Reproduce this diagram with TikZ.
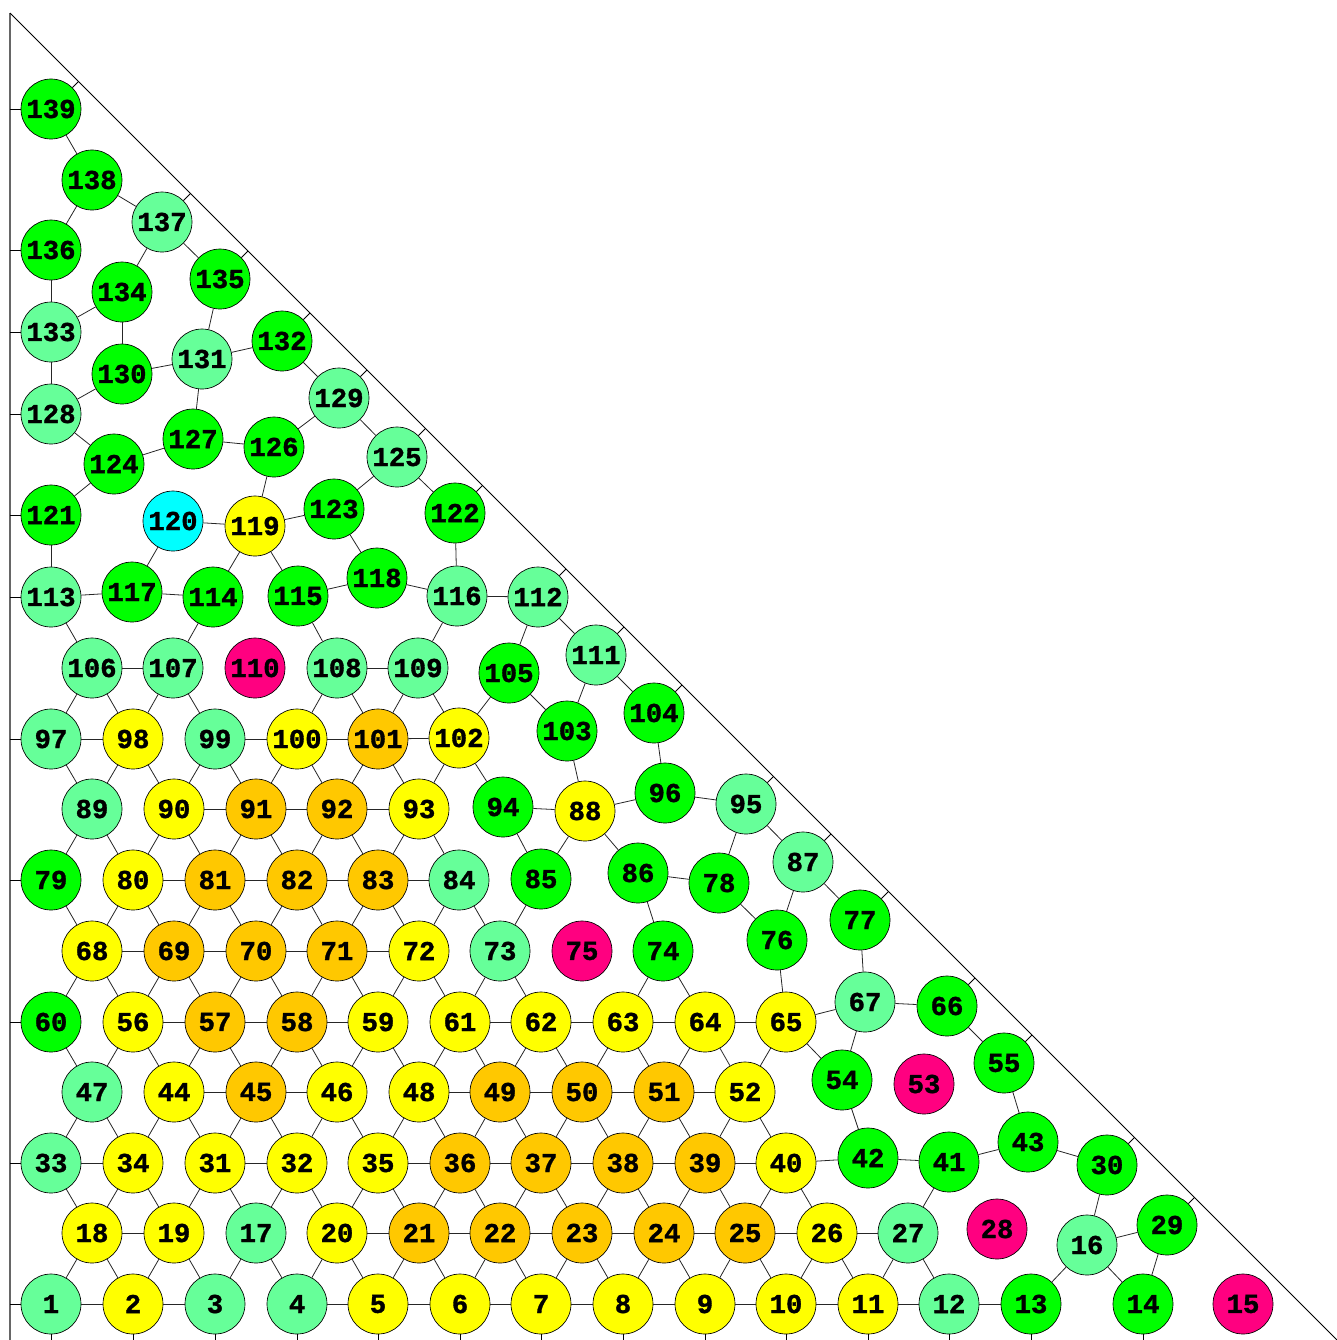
\documentclass[tikz,border=0pt]{standalone}
\usepackage{fontspec}
\usetikzlibrary{calc}
\newfontfamily\numfont{Liberation Mono}[BoldFeatures={FakeBold=1.2}]
\definecolor{cG}{HTML}{00FF00}
\definecolor{cL}{HTML}{66FF99}
\definecolor{cY}{HTML}{FFFF00}
\definecolor{cO}{HTML}{FFC800}
\definecolor{cM}{HTML}{FF0080}
\definecolor{cC}{HTML}{00FFFF}
\tikzset{
  nd/.style={circle, draw=black, line width=0.5pt, minimum size=45pt, inner sep=0pt,
    font=\numfont\bfseries\fontsize{20.5}{24}\selectfont},
  ed/.style={draw=black!85, line width=0.6pt},
  bnd/.style={draw=black, line width=0.6pt}
}
\begin{document}
\begin{tikzpicture}[x=0.75pt, y=-0.75pt]
\useasboundingbox (0,0) rectangle (1337,1340);
\coordinate (A1) at (10,13);
\coordinate (A2) at (10,1340);
\coordinate (D2) at (1337,1340);
\coordinate (B) at (0,1340);
\draw[draw=black!60, line width=0.8pt] (A1) -- (A2);
\draw[bnd] (A1) -- (D2);
\foreach \n/\x/\y/\c in {
 1/51/1304/cL, 2/133/1304/cY, 3/215/1304/cL, 4/297/1304/cL, 5/378/1304/cY, 6/460/1304/cY,
 7/541/1304/cY, 8/623/1304/cY, 9/705/1304/cY, 10/786/1304/cY, 11/868/1304/cY, 12/949/1304/cL,
 13/1031/1304/cG, 14/1143/1304/cG, 15/1243/1304/cM,
 18/92/1233/cY, 19/174/1233/cY, 17/256/1233/cL, 20/337/1233/cY, 21/419/1233/cO, 22/500/1233/cO,
 23/582/1233/cO, 24/664/1233/cO, 25/745/1233/cO, 26/827/1233/cY, 27/908/1233/cL, 28/997/1229/cM,
 16/1087/1245/cL, 29/1167/1225/cG,
 33/51/1163/cL, 34/133/1163/cY, 31/215/1163/cY, 32/297/1163/cY, 35/378/1163/cY, 36/460/1163/cO,
 37/541/1163/cO, 38/623/1163/cO, 39/705/1163/cO, 40/786/1163/cY, 42/868/1158/cG, 41/949/1162/cG,
 43/1028/1142/cG, 30/1107/1165/cG,
 47/92/1092/cL, 44/174/1092/cY, 45/256/1092/cO, 46/337/1092/cY, 48/419/1092/cY, 49/500/1092/cO,
 50/582/1092/cO, 51/664/1092/cO, 52/745/1092/cY, 54/842/1080/cG, 53/924/1084/cM, 55/1004/1063/cG,
 60/51/1022/cG, 56/133/1022/cY, 57/215/1022/cO, 58/297/1022/cO, 59/378/1022/cY, 61/460/1022/cY,
 62/541/1022/cY, 63/623/1022/cY, 64/705/1022/cY, 65/786/1022/cY, 67/865/1002/cL, 66/947/1006/cG,
 68/92/951/cY, 69/174/951/cO, 70/256/951/cO, 71/337/951/cO, 72/419/951/cY, 73/500/951/cL,
 75/582/951/cM, 74/663/951/cG, 76/777/940/cG, 77/860/920/cG,
 79/51/880/cG, 80/133/880/cY, 81/215/880/cO, 82/297/880/cO, 83/378/880/cO, 84/459/880/cL,
 85/541/879/cG, 86/638/873/cG, 78/719/883/cG, 87/803/862/cL,
 89/92/809/cL, 90/174/809/cY, 91/256/809/cO, 92/337/809/cO, 93/419/809/cY, 94/503/807/cG,
 88/585/811/cY, 96/665/793/cG, 95/746/804/cL,
 97/51/739/cL, 98/133/739/cY, 99/215/739/cL, 100/297/739/cY, 101/378/739/cO, 102/459/738/cY,
 103/567/731/cG, 104/654/713/cG,
 106/92/668/cL, 107/173/668/cL, 110/255/668/cM, 108/337/668/cL, 109/418/668/cL, 105/509/673/cG,
 111/596/655/cL,
 113/51/597/cL, 117/132/592/cG, 114/213/597/cG, 115/298/596/cG, 118/377/578/cG, 116/457/596/cL,
 112/538/597/cL,
 121/51/515/cG, 120/173/521/cC, 119/255/526/cY, 123/334/509/cG, 122/455/513/cG,
 124/114/464/cG, 127/193/439/cG, 126/274/447/cG, 129/339/398/cL, 125/397/457/cL,
 128/51/414/cL, 130/122/374/cG, 131/202/359/cL, 132/282/341/cG,
 133/51/332/cL, 134/122/292/cG, 135/220/279/cG, 137/162/222/cL,
 136/51/250/cG, 138/92/180/cG, 139/51/109/cG}
 \node[nd, fill=\c] (n\n) at (\x,\y) {\n};
% edges
\foreach \a/\b in {
 1/2, 2/3, 4/5, 5/6, 6/7, 7/8, 8/9, 9/10, 10/11, 11/12, 12/13,
 18/1, 18/2, 19/2, 19/3, 17/3, 17/4, 20/4, 20/5, 21/5, 21/6, 22/6, 22/7, 23/7, 23/8, 24/8, 24/9,
 25/9, 25/10, 26/10, 26/11, 27/11, 27/12, 16/13, 16/14, 29/14,
 18/19, 20/21, 21/22, 22/23, 23/24, 24/25, 25/26, 26/27, 16/29,
 33/18, 34/18, 34/19, 31/19, 31/17, 32/17, 32/20, 35/20, 35/21, 36/21, 36/22, 37/22, 37/23, 38/23,
 38/24, 39/24, 39/25, 40/25, 40/26, 41/27, 30/16,
 33/34, 31/32, 35/36, 36/37, 37/38, 38/39, 39/40, 40/42, 42/41, 41/43, 43/30,
 47/33, 47/34, 44/34, 44/31, 45/31, 45/32, 46/32, 46/35, 48/35, 48/36, 49/36, 49/37, 50/37, 50/38,
 51/38, 51/39, 52/39, 52/40, 54/42, 55/43,
 44/45, 45/46, 48/49, 49/50, 50/51, 51/52,
 60/47, 56/47, 56/44, 57/44, 57/45, 58/45, 58/46, 59/46, 59/48, 61/48, 61/49, 62/49, 62/50, 63/50,
 63/51, 64/51, 64/52, 65/52, 65/54, 67/54, 66/55,
 56/57, 57/58, 58/59, 61/62, 62/63, 63/64, 64/65, 65/67, 67/66,
 68/60, 68/56, 69/56, 69/57, 70/57, 70/58, 71/58, 71/59, 72/59, 72/61, 73/61, 73/62, 74/63, 74/64,
 76/65, 77/67,
 68/69, 69/70, 70/71, 71/72,
 79/68, 80/68, 80/69, 81/69, 81/70, 82/70, 82/71, 83/71, 83/72, 84/72, 84/73, 85/73, 86/74, 78/76,
 87/76, 87/77,
 80/81, 81/82, 82/83, 83/84, 86/78,
 89/79, 89/80, 90/80, 90/81, 91/81, 91/82, 92/82, 92/83, 93/83, 93/84, 94/85, 88/85, 88/86, 95/78,
 95/87,
 90/91, 91/92, 92/93, 94/88, 88/96, 96/95,
 97/89, 98/89, 98/90, 99/90, 99/91, 100/91, 100/92, 101/92, 101/93, 102/93, 102/94, 103/88, 104/96,
 97/98, 99/100, 100/101, 101/102,
 106/97, 106/98, 107/98, 107/99, 108/100, 108/101, 109/101, 109/102, 105/102, 105/103, 111/103,
 111/104,
 106/107, 108/109,
 113/106, 114/107, 115/108, 116/109, 112/105, 112/111,
 113/117, 117/114, 115/118, 118/116, 116/112,
 121/113, 120/117, 119/114, 119/115, 123/118, 122/116, 120/119, 119/123, 119/126, 123/125, 125/122,
 121/124, 124/128, 124/127, 127/126, 127/131, 126/129, 129/125, 129/132, 128/133, 128/130, 130/134,
 130/131, 131/135, 131/132, 133/136, 133/134, 134/137, 135/137, 136/138, 137/138, 138/139}
 \draw[ed] (n\a) -- (n\b);
% ticks to the left axis
\foreach \n in {1, 33, 60, 79, 97, 113, 121, 128, 133, 136, 139}
 \draw[bnd] (n\n) -- (n\n -| A1);
% ticks to the bottom
\foreach \n in {1,2,3,4,5,6,7,8,9,10,11,12,13,14}
 \draw[bnd] (n\n) -- (n\n |- B);
% ticks to the diagonal
\foreach \n in {139, 137, 135, 132, 129, 125, 122, 112, 111, 104, 95, 87, 77, 66, 55, 30, 29}
 \draw[bnd] (n\n) -- ($(A1)!(n\n)!(D2)$);
\end{tikzpicture}
\end{document}
